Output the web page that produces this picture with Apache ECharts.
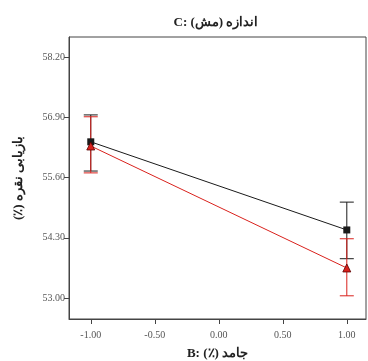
<!DOCTYPE html>
<html>
<head>
<meta charset="utf-8">
<script src="https://cdn.jsdelivr.net/npm/echarts@6/dist/echarts.min.js"></script>
<style>
  html, body { margin: 0; padding: 0; background: #fff; }
  #chart { width: 368px; height: 361px; }
</style>
</head>
<body>
<div id="chart"></div>
<script>
const xValues = [-1, 1];
const xTicks = [-1, -0.5, 0, 0.5, 1];
const yTicks = [53.0, 54.3, 55.6, 56.9, 58.2];

const blackMean = [56.37, 54.47];
const blackLow = [55.74, 53.85];
const blackHigh = [56.95, 55.07];

const redMean = [56.28, 53.65];
const redLow = [55.70, 53.05];
const redHigh = [56.91, 54.28];

const blackColor = "#1a1a1a";
const redColor = "#d9211c";
const serif = "'Liberation Serif', 'DejaVu Serif', serif";

// right-to-left embedding so the Persian parts keep their visual order
const rtl = (s) => "\u202B" + s + "\u202C";

function errorRows(low, high) {
  return xValues.map((x, i) => [x, low[i], high[i]]);
}

function meanRows(mean) {
  return xValues.map((x, i) => [x, mean[i]]);
}

function errorBarSeries(rows, color) {
  return {
    type: "custom",
    data: rows,
    z: 3,
    renderItem: (params, api) => {
      const x = api.value(0);
      const top = api.coord([x, api.value(2)]);
      const bottom = api.coord([x, api.value(1)]);
      const half = 7;
      const style = { stroke: color, lineWidth: 1 };
      return {
        type: "group",
        children: [
          { type: "line", shape: { x1: top[0], y1: top[1], x2: bottom[0], y2: bottom[1] }, style },
          { type: "line", shape: { x1: top[0] - half, y1: top[1], x2: top[0] + half, y2: top[1] }, style },
          { type: "line", shape: { x1: bottom[0] - half, y1: bottom[1], x2: bottom[0] + half, y2: bottom[1] }, style }
        ]
      };
    }
  };
}

const chart = echarts.init(document.getElementById("chart"), null, { renderer: "canvas" });

chart.setOption({
  animation: false,
  title: {
    text: "C: " + rtl("اندازه (مش)"),
    left: 211,
    textAlign: "center",
    top: 11,
    textStyle: { fontFamily: serif, fontSize: 13, fontWeight: "bold", color: "#222" }
  },
  grid: {
    left: 69,
    right: 2,
    top: 37,
    bottom: 42,
    outerBoundsMode: "none",
    containLabel: false,
    show: true,
    borderColor: "#444",
    borderWidth: 1,
    backgroundColor: "transparent"
  },
  xAxis: {
    type: "value",
    min: -1.17,
    max: 1.15,
    name: "B: " + rtl("جامد (٪)"),
    nameLocation: "middle",
    nameGap: 28,
    nameTextStyle: { fontFamily: serif, fontSize: 13, fontWeight: "bold", color: "#222" },
    axisLine: { show: true, onZero: false, lineStyle: { color: "#444" } },
    axisTick: { show: true, length: 5, customValues: xTicks, lineStyle: { color: "#444" } },
    axisLabel: {
      customValues: xTicks,
      fontFamily: serif,
      fontSize: 10,
      color: "#555",
      margin: 11,
      formatter: (v) => Number(v).toFixed(2)
    },
    splitLine: { show: false }
  },
  yAxis: {
    type: "value",
    min: 52.55,
    max: 58.63,
    name: rtl("بازیابی نقره (٪)"),
    nameLocation: "middle",
    nameGap: 44,
    nameTextStyle: { fontFamily: serif, fontSize: 13, fontWeight: "bold", color: "#222" },
    axisLine: { show: true, onZero: false, lineStyle: { color: "#444" } },
    axisTick: { show: true, length: 5, customValues: yTicks, lineStyle: { color: "#444" } },
    axisLabel: {
      customValues: yTicks,
      fontFamily: serif,
      fontSize: 10,
      color: "#555",
      margin: 4,
      formatter: (v) => Number(v).toFixed(2)
    },
    splitLine: { show: false }
  },
  series: [
    errorBarSeries(errorRows(blackLow, blackHigh), blackColor),
    errorBarSeries(errorRows(redLow, redHigh), redColor),
    {
      type: "line",
      data: meanRows(blackMean),
      z: 4,
      symbol: "rect",
      symbolSize: 7,
      itemStyle: { color: blackColor },
      lineStyle: { color: blackColor, width: 1 }
    },
    {
      type: "line",
      data: meanRows(redMean),
      z: 5,
      symbol: "triangle",
      symbolSize: 8,
      itemStyle: { color: redColor, borderColor: "#5a0000", borderWidth: 0.8 },
      lineStyle: { color: redColor, width: 1 }
    }
  ]
});
</script>
</body>
</html>
